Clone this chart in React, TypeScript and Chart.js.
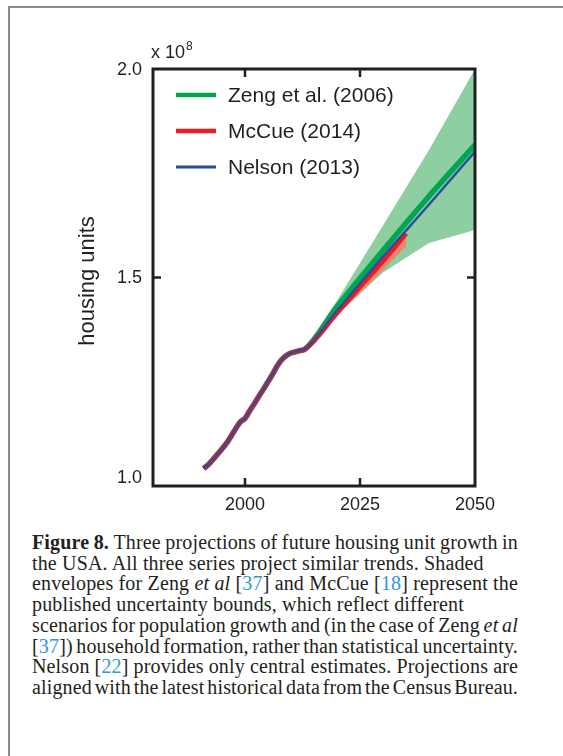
import React, { useEffect, useRef } from "react";
import { Chart, registerables } from "chart.js";
Chart.register(...registerables);

// ---- data (housing units, x 10^8) ----
const histYears = [1991, 1992, 1993, 1994, 1995, 1996, 1997, 1998, 1999, 2000, 2001, 2002, 2003, 2004, 2005, 2006, 2007, 2008, 2009, 2010, 2011, 2012, 2013];
const histValues = [1.042, 1.051, 1.063, 1.076, 1.089, 1.103, 1.12, 1.138, 1.154, 1.162, 1.18, 1.197, 1.215, 1.232, 1.25, 1.268, 1.288, 1.303, 1.313, 1.319, 1.322, 1.325, 1.328];

const zengYears = [2020, 2030, 2040, 2050];
const zengCentral = [1.43, 1.565, 1.695, 1.818];
const zengUpper = [1.445, 1.625, 1.806, 2.0];
const zengLower = [1.41, 1.512, 1.583, 1.614];

const mccueYears = [2020, 2025, 2030, 2035];
const mccueCentral = [1.415, 1.478, 1.54, 1.606];
const mccueUpper = [1.417, 1.482, 1.546, 1.612];
const mccueLower = [1.41, 1.463, 1.518, 1.575];

const nelsonYears = [2020, 2030, 2040, 2050];
const nelsonCentral = [1.42, 1.55, 1.675, 1.802];

const xTickValues = [2000, 2025, 2050];
const yTickValues = [1.0, 1.5, 2.0];
const xMin = 1980, xMax = 2050, yMin = 1.0, yMax = 2.0;

const legendLabels = ["Zeng et al. (2006)", "McCue (2014)", "Nelson (2013)"];
const colors = { zeng: "#00a651", mccue: "#ed1c24", nelson: "#2e4c9f", zengBand: "#8dcfa1", mccueBand: "#f0826e" };

const captionLines: [string, boolean][] = [
  ["*Figure* *8.* Three projections of future housing unit growth in", true],
  ["the USA. All three series project similar trends. Shaded", false],
  ["envelopes for Zeng _et_ _al_ [37] and McCue [18] represent the", true],
  ["published uncertainty bounds, which reflect different", false],
  ["scenarios for population growth and (in the case of Zeng _et_ _al_", true],
  ["[37]) household formation, rather than statistical uncertainty.", true],
  ["Nelson [22] provides only central estimates. Projections are", true],
  ["aligned with the latest historical data from the Census Bureau.", true],
];

const INK = "#231f20";
const SANS = '"Liberation Sans", Arial, sans-serif';

function renderWord(w: string, key: number) {
  if (w.startsWith("*") && w.endsWith("*")) return <b key={key}>{w.slice(1, -1)}</b>;
  if (w.startsWith("_") && w.endsWith("_")) return <i key={key}>{w.slice(1, -1)}</i>;
  const parts = w.split(/(\d+)(?=\])/);
  if (parts.length > 1) {
    return (
      <span key={key}>
        {parts.map((p, i) => (i % 2 === 1 ? <span key={i} style={{ color: "#2b9ad7" }}>{p}</span> : <span key={i}>{p}</span>))}
      </span>
    );
  }
  return <span key={key}>{w}</span>;
}

const decorPlugin = {
  id: "decor",
  afterDraw(chart: any) {
    const { ctx, chartArea: a, scales } = chart;
    const x = scales.x, y = scales.y;
    ctx.save();
    // axes box
    ctx.strokeStyle = INK;
    ctx.lineWidth = 3;
    ctx.strokeRect(a.left, a.top, a.right - a.left, a.bottom - a.top);
    // inside ticks
    ctx.lineWidth = 2.5;
    ctx.beginPath();
    xTickValues.forEach((v) => {
      const px = x.getPixelForValue(v);
      if (px > a.left + 2 && px < a.right - 2) {
        ctx.moveTo(px, a.bottom); ctx.lineTo(px, a.bottom - 8);
        ctx.moveTo(px, a.top); ctx.lineTo(px, a.top + 8);
      }
    });
    yTickValues.forEach((v) => {
      const py = y.getPixelForValue(v);
      if (py > a.top + 2 && py < a.bottom - 2) {
        ctx.moveTo(a.left, py); ctx.lineTo(a.left + 8, py);
        ctx.moveTo(a.right, py); ctx.lineTo(a.right - 8, py);
      }
    });
    ctx.stroke();
    // y tick labels
    ctx.fillStyle = INK;
    ctx.font = `18px ${SANS}`;
    ctx.textAlign = "right";
    ctx.textBaseline = "middle";
    yTickValues.forEach((v) => {
      const py = y.getPixelForValue(v) + (v === yMin ? -8 : 1);
      ctx.fillText(v.toFixed(1), a.left - 11, py);
    });
    // multiplier
    ctx.textAlign = "left";
    ctx.textBaseline = "alphabetic";
    ctx.font = `18px ${SANS}`;
    ctx.fillText("x 10", a.left - 2, 58);
    const w = ctx.measureText("x 10").width;
    ctx.font = `12px ${SANS}`;
    ctx.fillText("8", a.left - 2 + w + 1, 50);
    // y title
    ctx.save();
    ctx.translate(88, 281);
    ctx.rotate(-Math.PI / 2);
    ctx.font = `22px ${SANS}`;
    ctx.textAlign = "center";
    ctx.textBaseline = "middle";
    ctx.fillText("housing units", 0, 0);
    ctx.restore();
    // legend
    const rows = [
      { c: colors.zeng, w: 4.5 },
      { c: colors.mccue, w: 4.5 },
      { c: colors.nelson, w: 3 },
    ];
    ctx.font = `21px ${SANS}`;
    ctx.textAlign = "left";
    ctx.textBaseline = "middle";
    rows.forEach((r, i) => {
      const ly = 95 + i * 36;
      ctx.strokeStyle = r.c;
      ctx.lineWidth = r.w;
      ctx.lineCap = "butt";
      ctx.beginPath();
      ctx.moveTo(176, ly); ctx.lineTo(216, ly);
      ctx.stroke();
      ctx.fillStyle = INK;
      ctx.fillText(legendLabels[i], 228, ly + 1);
    });
    ctx.restore();
  },
};

export default function App() {
  const ref = useRef<HTMLCanvasElement | null>(null);
  useEffect(() => {
    if (!ref.current) return;
    const histPts = histYears.map((xv, i) => ({ x: xv, y: histValues[i] }));
    const anchor = histPts[histPts.length - 1];
    const proj = (xs: number[], ys: number[]) => [anchor, ...xs.map((xv, i) => ({ x: xv, y: ys[i] }))];
    const full = (xs: number[], ys: number[]) => [...histPts, ...xs.map((xv, i) => ({ x: xv, y: ys[i] }))];
    const band = { borderWidth: 0, pointRadius: 0, tension: 0 };
    const chart = new Chart(ref.current, {
      type: "line",
      data: {
        datasets: [
          { label: "zl", data: proj(zengYears, zengLower), ...band, fill: false, order: 10 },
          { label: "zu", data: proj(zengYears, zengUpper), ...band, fill: "-1", backgroundColor: colors.zengBand, order: 10 },
          { label: "ml", data: proj(mccueYears, mccueLower), ...band, fill: false, order: 9 },
          { label: "mu", data: proj(mccueYears, mccueUpper), ...band, fill: "-1", backgroundColor: colors.mccueBand, order: 9 },
          { label: "Zeng", data: full(zengYears, zengCentral), borderColor: colors.zeng, borderWidth: 5.5, pointRadius: 0, fill: false, order: 3, cubicInterpolationMode: "monotone" },
          { label: "McCue", data: full(mccueYears, mccueCentral), borderColor: colors.mccue, borderWidth: 5, pointRadius: 0, fill: false, order: 2, cubicInterpolationMode: "monotone" },
          { label: "Nelson", data: full(nelsonYears, nelsonCentral), borderColor: colors.nelson, borderWidth: 2.5, pointRadius: 0, fill: false, order: 1, cubicInterpolationMode: "monotone" },
        ] as any,
      },
      options: {
        animation: false,
        responsive: false,
        devicePixelRatio: 1,
        layout: { padding: { left: 153, right: 88, top: 69, bottom: 9 } },
        plugins: { legend: { display: false }, tooltip: { enabled: false } },
        elements: { line: { borderCapStyle: "butt", borderJoinStyle: "round" } },
        scales: {
          x: {
            type: "linear",
            min: xMin,
            max: xMax,
            grid: { display: false, drawTicks: false },
            border: { display: false },
            afterBuildTicks: (s: any) => { s.ticks = xTickValues.map((v) => ({ value: v })); },
            afterFit: (s: any) => { s.height = 30; },
            ticks: { autoSkip: false, maxRotation: 0, padding: 8, color: INK, font: { family: SANS, size: 18 }, callback: (v: any) => String(v) },
          },
          y: {
            type: "linear",
            min: yMin,
            max: yMax,
            grid: { display: false, drawTicks: false },
            border: { display: false },
            ticks: { display: false },
            afterFit: (s: any) => { s.width = 0; },
          },
        },
      } as any,
      plugins: [decorPlugin],
    });
    return () => chart.destroy();
  }, []);

  return (
    <div style={{ position: "fixed", left: 0, top: 0, width: 563, height: 756, overflow: "hidden", background: "#fff" }}>
      <div style={{ position: "absolute", left: 8, top: 6, width: 700, height: 900, borderTop: "2px solid #8a8a8a", borderLeft: "2px solid #8a8a8a", boxSizing: "border-box" }} />
      <canvas ref={ref} width={563} height={525} style={{ position: "absolute", left: 0, top: 0, width: 563, height: 525 }} />
      <div style={{ position: "absolute", left: 32, top: 532, width: 486, fontFamily: '"Liberation Serif", "Times New Roman", serif', fontSize: 20, letterSpacing: "0.15px", lineHeight: "20.7px", color: INK }}>
        {captionLines.map(([line, just], li) =>
          just ? (
            <div key={li} style={{ display: "flex", justifyContent: "space-between", whiteSpace: "nowrap" }}>
              {line.split(" ").map((w, i) => renderWord(w, i))}
            </div>
          ) : (
            <div key={li} style={{ whiteSpace: "nowrap" }}>
              {line.split(" ").map((w, i) => (
                <React.Fragment key={i}>{i > 0 ? " " : ""}{renderWord(w, i)}</React.Fragment>
              ))}
            </div>
          )
        )}
      </div>
    </div>
  );
}
